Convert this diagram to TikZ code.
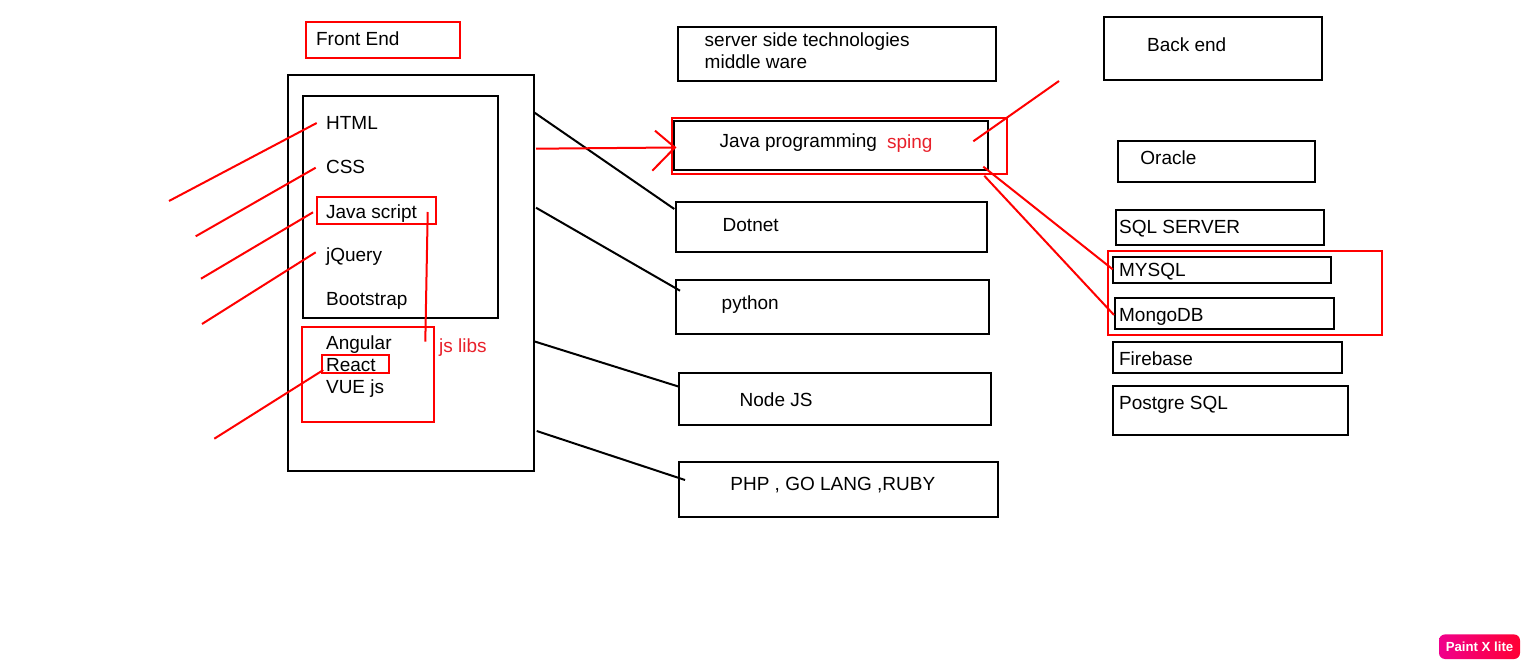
\documentclass[tikz,border=0pt]{standalone}
\usepackage{fontspec}
\setmainfont{Liberation Sans}
\usetikzlibrary{fit}
\definecolor{wmA}{RGB}{240,0,140}
\definecolor{wmB}{RGB}{255,0,51}
\definecolor{pred}{RGB}{255,0,0}
\definecolor{tred}{RGB}{232,32,42}
\begin{document}
\begin{tikzpicture}[x=0.5pt,y=-0.5pt,
  box/.style={draw=black, line width=1pt, inner sep=0pt},
  rbox/.style={draw=pred, line width=1pt, inner sep=0pt},
  lbl/.style={anchor=base west, inner sep=0pt, font=\fontsize{9.5pt}{11pt}\selectfont},
  rlbl/.style={lbl, text=tred},
  con/.style={line width=1pt, draw=black},
  rcon/.style={line width=1pt, draw=pred}]
\useasboundingbox (0,0) rectangle (1530,668);

% ---------- front end ----------
\node[rbox, fit={(305.7,22) (460,57.7)}] (fe) {};
\node[lbl] (feT) at (315.7,46) {Front End};
\node[box, fit={(288,75) (534,471)}] (outer) {};
\node[box, fit={(302.7,96) (498,317.7)}] (inner) {};
\node[rbox, fit={(316.7,196.7) (436,224)}] (jsbox) {};
\node[rbox, fit={(302,327) (433.7,421.7)}] (libbox) {};
\node[rbox, fit={(321.7,355) (389,372.7)}] (reactbox) {};

\node[lbl] (html) at (325.7,130) {HTML};
\node[lbl] (css) at (325.7,174) {CSS};
\node[lbl] (js) at (325.7,218.3) {Java script};
\node[lbl] (jq) at (325.7,262) {jQuery};
\node[lbl] (bs) at (325.7,305.7) {Bootstrap};
\node[lbl] (ang) at (325.7,349.5) {Angular};
\node[lbl] (react) at (325.7,371.7) {React};
\node[lbl] (vue) at (325.7,393.3) {VUE js};
\node[rlbl] (jslibs) at (438.7,352.7) {js libs};

% red pointers on the left
\coordinate (l1a) at (169,201);   \coordinate (l1b) at (316.7,123);
\coordinate (l2a) at (195.7,236.3); \coordinate (l2b) at (315.7,167.7);
\coordinate (l3a) at (201,278.7); \coordinate (l3b) at (313,212.3);
\coordinate (l4a) at (202,324);   \coordinate (l4b) at (315.7,252.3);
\coordinate (l5a) at (214.3,438.7); \coordinate (l5b) at (323.3,370);
\draw[rcon] (l1a) -- (l1b);
\draw[rcon] (l2a) -- (l2b);
\draw[rcon] (l3a) -- (l3b);
\draw[rcon] (l4a) -- (l4b);
\draw[rcon] (l5a) -- (l5b);
\coordinate (v1) at (427.7,212); \coordinate (v2) at (425.3,341.7);
\draw[rcon] (v1) -- (v2);

% ---------- middle ----------
\node[box, fit={(677.7,27) (996,81.1)}] (server) {};
\node[lbl] (serverT1) at (704.3,46.6) {server side technologies};
\node[lbl] (serverT2) at (704.3,68.6) {middle ware};

\node[rbox, fit={(672,117.7) (1007,174)}] (javared) {};
\node[box, fit={(674,120.7) (988.3,170)}] (java) {};
\node[lbl] (javaT) at (719.3,148) {Java programming};
\node[rlbl] (sping) at (886.7,149) {sping};

\node[box, fit={(675.7,202) (987.3,251.9)}] (dotnet) {};
\node[lbl] (dotnetT) at (722.3,232) {Dotnet};
\node[box, fit={(675.7,280) (989.3,334)}] (python) {};
\node[lbl] (pythonT) at (721.3,309.3) {python};
\node[box, fit={(679.3,372.7) (990.7,425)}] (nodejs) {};
\node[lbl] (nodejsT) at (739.3,406.7) {Node JS};
\node[box, fit={(679,461.7) (998.3,517.3)}] (php) {};
\node[lbl] (phpT) at (730,490.7) {PHP , GO LANG ,RUBY};

% black connectors
\coordinate (c1a) at (534,112.3);   \coordinate (c1b) at (674.3,209);
\coordinate (c2a) at (536,207.7);   \coordinate (c2b) at (680,290.7);
\coordinate (c3a) at (534.7,341.5); \coordinate (c3b) at (679,386.7);
\coordinate (c4a) at (536.7,431);   \coordinate (c4b) at (685,480);
\draw[con] (c1a) -- (c1b);
\draw[con] (c2a) -- (c2b);
\draw[con] (c3a) -- (c3b);
\draw[con] (c4a) -- (c4b);

% red arrow into java
\coordinate (arA) at (536,148.7);
\coordinate (arB) at (675,147.5);
\coordinate (arH1) at (655,130.7);
\coordinate (arH2) at (652.3,170.7);
\draw[rcon] (arA) -- (arB);
\draw[rcon] (arH1) -- (arB) -- (arH2);

% ---------- back end ----------
\node[box, fit={(1103.7,16.7) (1322,80)}] (backend) {};
\node[lbl] (backendT) at (1146.7,51.7) {Back end};
\node[box, fit={(1117.7,141) (1315.3,182)}] (oracle) {};
\node[lbl] (oracleT) at (1140,165) {Oracle};
\node[box, fit={(1116,210) (1324,245)}] (sqlserver) {};
\node[lbl] (sqlserverT) at (1118.7,233.3) {SQL SERVER};
\node[rbox, fit={(1108,251) (1382,335.3)}] (dbred) {};
\node[box, fit={(1112.7,257) (1331,283)}] (mysql) {};
\node[lbl] (mysqlT) at (1118.7,276.7) {MYSQL};
\node[box, fit={(1115,297.7) (1334,329)}] (mongo) {};
\node[lbl] (mongoT) at (1118.7,321) {MongoDB};
\node[box, fit={(1112.7,342) (1342,372.7)}] (firebase) {};
\node[lbl] (firebaseT) at (1118.7,365) {Firebase};
\node[box, fit={(1112.7,386) (1347.7,435.3)}] (postgre) {};
\node[lbl] (postgreT) at (1118.7,409) {Postgre SQL};

% red connectors on the right
\coordinate (r0a) at (973.3,141.3); \coordinate (r0b) at (1059,81);
\coordinate (r1a) at (983.3,166.7); \coordinate (r1b) at (1112.7,269.3);
\coordinate (r2a) at (984.3,175.8); \coordinate (r2b) at (1114,315);
\draw[rcon] (r0a) -- (r0b);
\draw[rcon] (r1a) -- (r1b);
\draw[rcon] (r2a) -- (r2b);

% ---------- watermark ----------
\node[rounded corners=3pt, left color=wmA, right color=wmB, draw=none,
      minimum width=40.5pt, minimum height=12.3pt, inner sep=0pt,
      text=white, font=\bfseries\fontsize{6.6pt}{7pt}\selectfont] (wm) at (1479.5,646.7) {Paint X lite};
\end{tikzpicture}
\end{document}
